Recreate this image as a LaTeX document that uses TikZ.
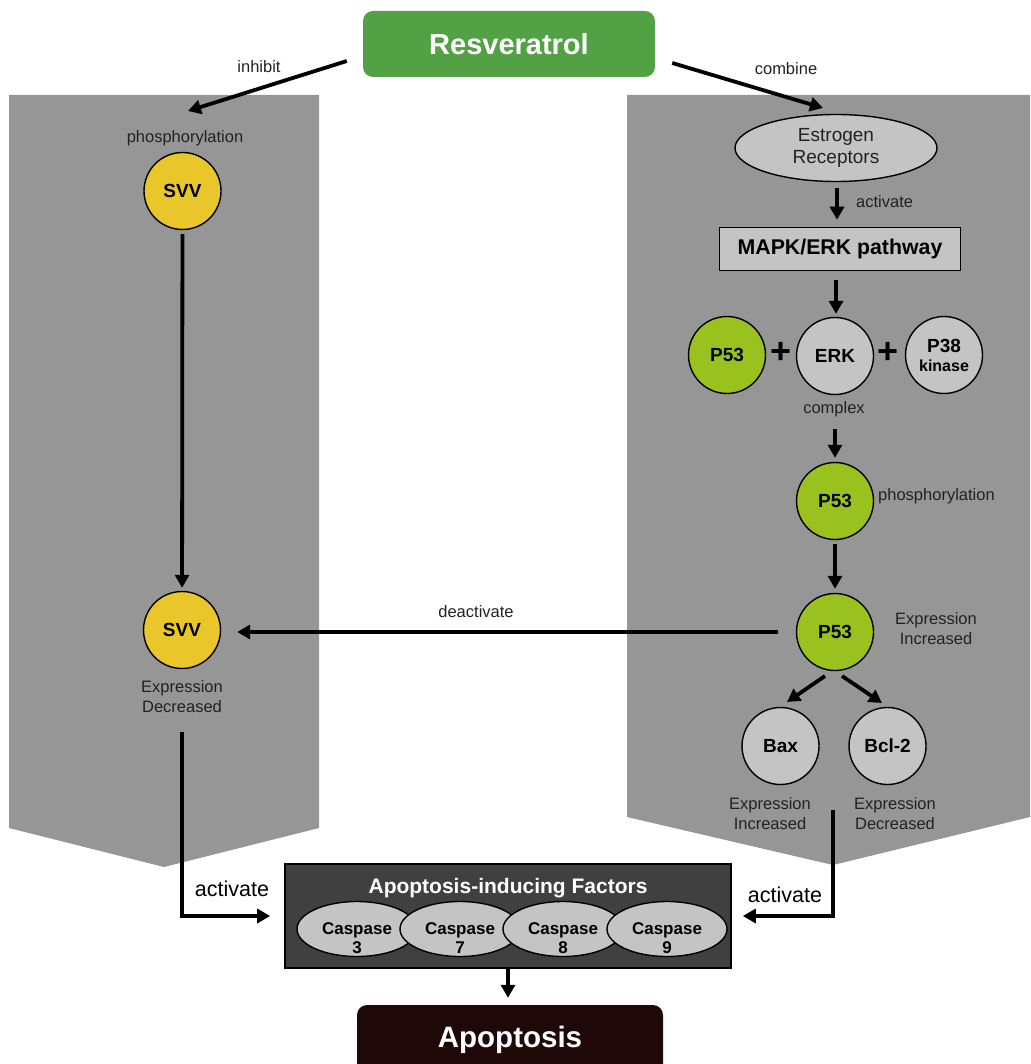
\documentclass[tikz,border=0pt]{standalone}
\usepackage{fontspec}
\setmainfont{Liberation Sans}
\usetikzlibrary{arrows.meta,shapes.geometric}
\definecolor{resgreen}{RGB}{82,161,68}
\definecolor{panelgray}{RGB}{150,150,150}
\definecolor{svvyellow}{RGB}{233,198,42}
\definecolor{p53green}{RGB}{153,194,31}
\definecolor{lightg}{RGB}{196,196,196}
\definecolor{darkbox}{RGB}{64,64,64}
\definecolor{apobrown}{RGB}{30,8,8}
\definecolor{txt}{RGB}{34,34,34}
\tikzset{
  arr/.style={line width=3.8pt, -{Triangle[length=13pt,width=14pt]}},
  circ/.style={circle, draw=black, line width=1.4pt, minimum size=77pt, inner sep=0pt,
    font=\fontsize{19}{22}\selectfont\bfseries, text=black, align=center},
  lab/.style={font=\fontsize{16.5}{20}\selectfont, text=txt, align=center, inner sep=0pt},
  biglab/.style={font=\fontsize{21.5}{24}\selectfont, text=black, inner sep=0pt},
  casp/.style={ellipse, draw=black, line width=1.4pt, fill=lightg, minimum width=120pt,
    minimum height=55pt, inner sep=0pt},
  casptxt/.style={font=\fontsize{17}{19.5}\selectfont\bfseries, text=black, align=center, inner sep=0pt},
  plus/.style={font=\fontsize{36}{36}\selectfont\bfseries, text=black, inner sep=0pt}
}
\begin{document}
\begin{tikzpicture}[x=1pt,y=-1pt]
\useasboundingbox (0,0) rectangle (1030,1064);
% panels
\fill[panelgray] (9,95) -- (319,95) -- (319,828) -- (164,867) -- (9,828) -- cycle;
\fill[panelgray] (627,95) -- (1030,95) -- (1030,817) -- (833,865) -- (627,817) -- cycle;

% top
\node[rounded corners=10pt, fill=resgreen, minimum width=292pt, minimum height=66pt,
  font=\fontsize{29}{32}\selectfont\bfseries, text=white] (res) at (509,44) {Resveratrol};
\coordinate (inhE) at (188,111);
\coordinate (comE) at (823,108);
\draw[arr] ([xshift=-16pt,yshift=-17pt]res.west) -- (inhE);
\draw[arr] ([xshift=17pt,yshift=-19pt]res.east) -- (comE);
\node[lab] (tinh) at (259,67) {inhibit};
\node[lab] (tcom) at (786,69) {combine};

% left column
\node[lab] (tphos1) at (185,138) {phosphorylation};
\node[circ, fill=svvyellow] (svv1) at (182.5,191) {SVV};
\node[circ, fill=svvyellow] (svv2) at (182,630) {SVV};
\draw[arr, shorten <=4pt, shorten >=3pt] (svv1) -- (svv2);
\node[lab] (tsvv2) at (182,697) {Expression\\Decreased};

% right column
\node[ellipse, draw=black, line width=1.4pt, fill=lightg, minimum width=202pt, minimum height=67pt,
  inner sep=0pt, font=\fontsize{19}{22}\selectfont, text=txt, align=center] (er) at (836,148) {Estrogen\\Receptors};
\node[draw=black, line width=1.6pt, fill=lightg, minimum width=241pt, minimum height=43pt,
  font=\fontsize{21.3}{24}\selectfont\bfseries, text=black] (mapk) at (840,249) {MAPK/ERK pathway};
\draw[arr, shorten <=6pt, shorten >=7pt] (er.south -| 837,0) -- (mapk.north -| 837,0);
\node[lab, anchor=west] (tact1) at (856,202) {activate};

\node[circ, fill=p53green] (p53a) at (727,355) {P53};
\node[circ, fill=lightg] (erk) at (835,356) {ERK};
\node[circ, fill=lightg] (p38) at (944,355) {P38\\[-3pt]{\fontsize{16}{18}\selectfont kinase}};
\node[plus] (plus1) at (781,353) {+};
\node[plus] (plus2) at (888,353) {+};
\draw[arr, shorten <=9pt, shorten >=3pt] (mapk.south -| 836,0) -- (erk.north -| 836,0);
\node[lab] (tcomplex) at (834,409) {complex};
\coordinate (cx) at (835,429);
\node[circ, fill=p53green] (p53b) at (835,501) {P53};
\draw[arr, shorten >=4pt] (cx) -- (p53b);
\node[lab, anchor=west] (tphos2) at (878,496) {phosphorylation};
\node[circ, fill=p53green] (p53c) at (835,632) {P53};
\draw[arr, shorten <=3.5pt, shorten >=4pt] (p53b) -- (p53c);
\node[lab] (tp53c) at (936,629) {Expression\\Increased};

\draw[arr, shorten <=17.5pt, shorten >=16pt] (p53c.west) -- (p53c.west -| svv2.east);
\node[lab] (tdeact) at (476,612) {deactivate};

\node[circ, fill=lightg] (bax) at (780.5,746) {Bax};
\node[circ, fill=lightg] (bcl) at (887.5,746) {Bcl-2};
\coordinate (b1s) at (825,676); \coordinate (b1e) at (787,702);
\coordinate (b2s) at (842,676); \coordinate (b2e) at (882,703);
\draw[arr] (b1s) -- (b1e);
\draw[arr] (b2s) -- (b2e);
\node[lab] (tbax) at (770,814) {Expression\\Increased};
\node[lab] (tbcl) at (895,814) {Expression\\Decreased};

% bottom
\node[draw=black, line width=1.6pt, fill=darkbox, minimum width=446pt, minimum height=104pt] (aif) at (508,916) {};
\node[font=\fontsize{21}{24}\selectfont\bfseries, text=white, inner sep=0pt] (taif) at (508,888) {Apoptosis-inducing Factors};
\node[casp] (c3) at (357,929) {};
\node[casptxt] at ([yshift=-9pt]c3.center) {Caspase\\3};
\node[casp] (c7) at (460,929) {};
\node[casptxt] at ([yshift=-9pt]c7.center) {Caspase\\7};
\node[casp] (c8) at (563,929) {};
\node[casptxt] at ([yshift=-9pt]c8.center) {Caspase\\8};
\node[casp] (c9) at (667,929) {};
\node[casptxt] at ([yshift=-9pt]c9.center) {Caspase\\9};

\coordinate (l1) at (182,732);
\coordinate (r1) at (833,810);
\draw[arr, shorten >=14pt] (l1) |- (aif.west);
\draw[arr, shorten >=11pt] (r1) |- (aif.east);
\node[biglab] (tactl) at (232,889) {activate};
\node[biglab] (tactr) at (785,895) {activate};

\node[rounded corners=10pt, fill=apobrown, minimum width=306pt, minimum height=70pt,
  font=\fontsize{29.5}{32}\selectfont\bfseries, text=white] (apo) at (510,1040) {Apoptosis};
\draw[arr, shorten >=7pt] (aif.south) -- (aif.south |- apo.north);
\end{tikzpicture}
\end{document}
